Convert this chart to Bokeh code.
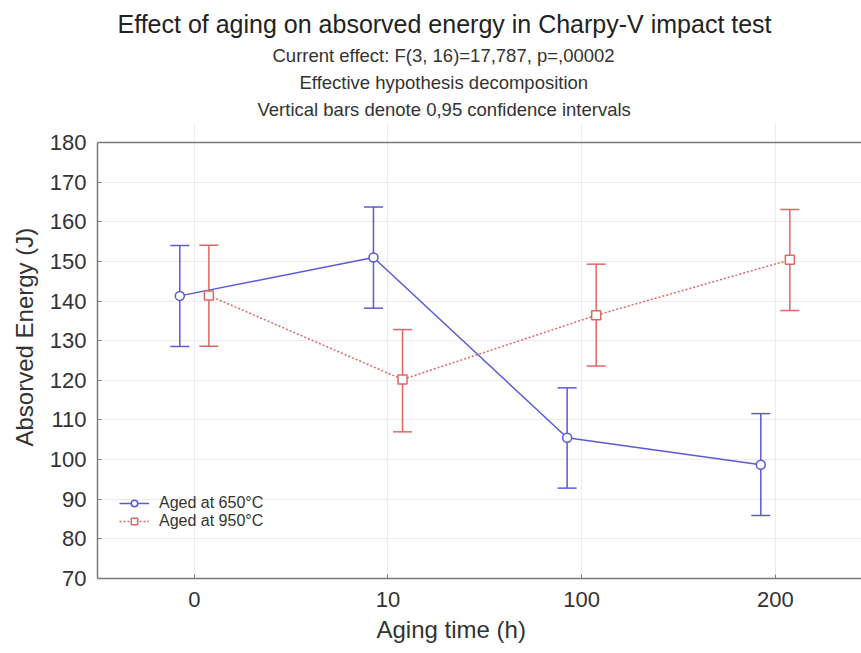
from bokeh.plotting import figure
from bokeh.models import (ColumnDataSource, Whisker, TeeHead, FixedTicker, Span,
                          Range1d, Legend, LegendItem, Title)
from bokeh.embed import file_html
from bokeh.resources import INLINE

categories = ["0", "10", "100", "200"]
aged650_mean = [141.3, 151.0, 105.5, 98.7]
aged650_lower = [128.5, 138.2, 92.8, 85.9]
aged650_upper = [154.0, 163.7, 118.1, 111.6]
aged950_mean = [141.4, 120.2, 136.4, 150.4]
aged950_lower = [128.6, 107.0, 123.6, 137.6]
aged950_upper = [154.1, 132.8, 149.3, 163.1]
y_ticks = list(range(70, 181, 10))

BLUE = "#5a5ad6"
RED = "#e06666"
FONT = "Liberation Sans"
TXT = "#333333"
AX = "#7a7a7a"

idx = list(range(len(categories)))
off = 0.075
src650 = ColumnDataSource(dict(x=[i - off for i in idx], y=aged650_mean,
                               lo=aged650_lower, hi=aged650_upper))
src950 = ColumnDataSource(dict(x=[i + off for i in idx], y=aged950_mean,
                               lo=aged950_lower, hi=aged950_upper))

y_lo, y_hi = y_ticks[0], y_ticks[-1]
p = figure(width=861, height=653, output_backend="svg", toolbar_location=None,
           x_range=Range1d(-0.5, 3.445), y_range=Range1d(y_lo, y_hi + 5.04),
           min_border_left=97, min_border_right=0, min_border_bottom=75,
           min_border_top=122)
p.outline_line_color = None
p.background_fill_color = "white"
p.border_fill_color = "white"

for ax in (p.xaxis[0], p.yaxis[0]):
    ax.axis_line_color = AX
    ax.axis_line_width = 1.5
    ax.major_tick_line_color = AX
    ax.major_tick_in = 4
    ax.major_tick_out = 0
    ax.minor_tick_line_color = None
    ax.major_label_text_font = FONT
    ax.major_label_text_font_size = "22px"
    ax.major_label_text_color = TXT

p.xaxis.ticker = FixedTicker(ticks=idx)
p.xaxis.major_label_overrides = {i: c for i, c in zip(idx, categories)}
p.xaxis.major_label_standoff = 13
p.yaxis.ticker = FixedTicker(ticks=y_ticks)
p.yaxis.bounds = (y_lo, y_hi)
p.yaxis.major_label_standoff = 11

p.add_layout(Title(text="Absorved Energy (J)", align="left", offset=132, text_font=FONT,
                   text_font_size="24px", text_font_style="normal", text_color=TXT,
                   standoff=17), "left")
p.add_layout(Title(text="Aging time (h)", align="left", offset=279, text_font=FONT,
                   text_font_size="24px", text_font_style="normal", text_color=TXT,
                   standoff=9), "below")

# top frame line at the upper end of the value axis
p.add_layout(Span(location=y_hi, dimension="width", line_color=AX, line_width=1.5))

p.xgrid.ticker = FixedTicker(ticks=idx)
p.xgrid.bounds = (y_lo, y_hi)
p.xgrid.grid_line_color = "#ececec"
p.ygrid.grid_line_color = "#ececec"

# error bars
for src, col in ((src650, BLUE), (src950, RED)):
    w = Whisker(source=src, base="x", lower="lo", upper="hi", line_color=col, line_width=1.5,
                upper_head=TeeHead(size=19, line_color=col, line_width=1.5),
                lower_head=TeeHead(size=19, line_color=col, line_width=1.5))
    p.add_layout(w)

l1 = p.line("x", "y", source=src650, line_color=BLUE, line_width=1.5)
s1 = p.scatter("x", "y", source=src650, marker="circle", size=9, fill_color="white",
               line_color=BLUE, line_width=1.5)
l2 = p.line("x", "y", source=src950, line_color=RED, line_width=1.5, line_dash="2 2")
s2 = p.scatter("x", "y", source=src950, marker="square", size=9, fill_color="white",
               line_color=RED, line_width=1.5)

legend = Legend(items=[LegendItem(label="Aged at 650°C", renderers=[l1, s1]),
                       LegendItem(label="Aged at 950°C", renderers=[l2, s2])],
                location=(22, 48), background_fill_alpha=0, border_line_color=None,
                label_text_font=FONT, label_text_font_size="16px", label_text_color=TXT,
                glyph_width=30, glyph_height=16, label_height=16, spacing=0, padding=4,
                label_standoff=10, margin=0)
p.add_layout(legend, "center")

subs = [("Current effect: F(3, 16)=17,787, p=,00002", 175),
        ("Effective hypothesis decomposition", 202),
        ("Vertical bars denote 0,95 confidence intervals", 160)]
for s, o in reversed(subs):
    p.add_layout(Title(text=s, align="left", offset=o, text_font=FONT,
                       text_font_size="18.5px", text_font_style="normal",
                       text_color=TXT, standoff=4.4), "above")
p.add_layout(Title(text="Effect of aging on absorved energy in Charpy-V impact test",
                   align="left", offset=20, text_font=FONT, text_font_size="25px",
                   text_font_style="normal", text_color="#222222", standoff=8), "above")

open("out.html", "w").write(file_html(p, INLINE))
